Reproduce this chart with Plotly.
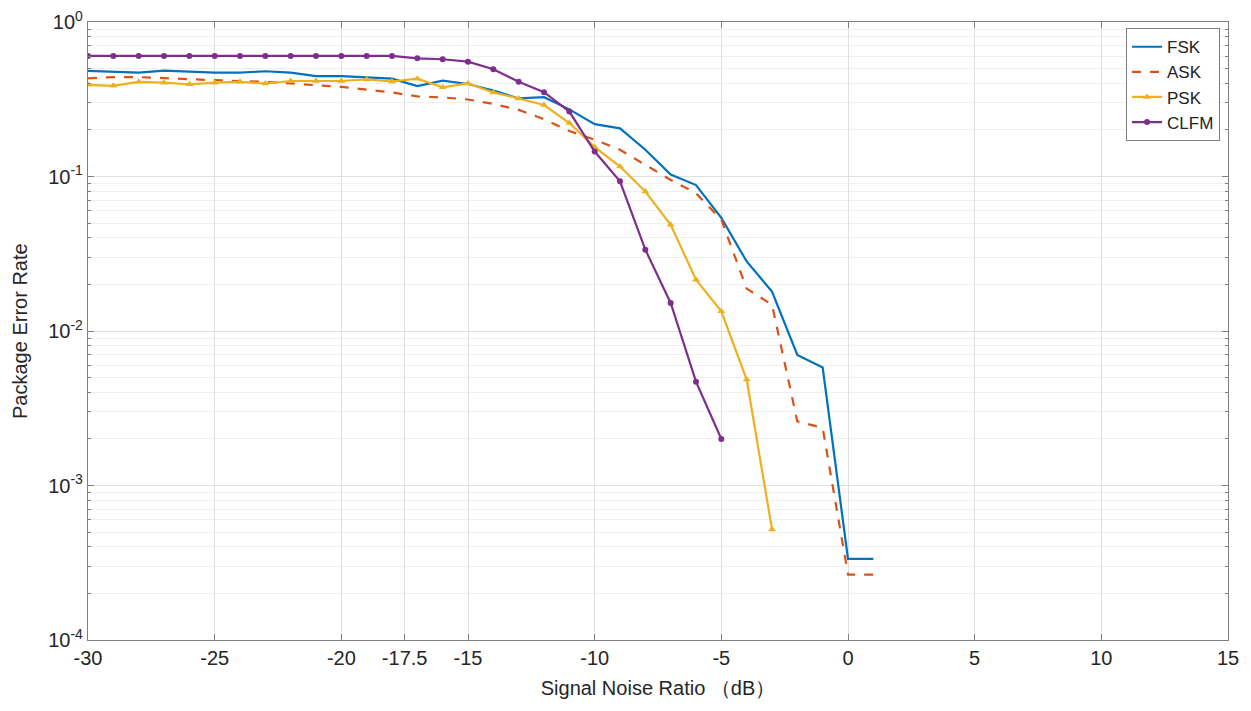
import plotly.graph_objects as go

fsk_x = list(range(-30, 2))
fsk = [0.483, 0.476, 0.47, 0.485, 0.478, 0.47, 0.47, 0.48, 0.47, 0.446, 0.446, 0.438, 0.43,
       0.385, 0.417, 0.397, 0.36, 0.32, 0.326, 0.272, 0.218, 0.205, 0.149, 0.103, 0.088,
       0.054, 0.0282, 0.018, 0.0070, 0.0058, 3.35e-4, 3.35e-4]

ask_x = list(range(-30, 2))
ask = [0.432, 0.44, 0.44, 0.432, 0.425, 0.42, 0.415, 0.41, 0.40, 0.39, 0.38, 0.365, 0.35,
       0.33, 0.325, 0.315, 0.295, 0.27, 0.235, 0.197, 0.173, 0.149, 0.119, 0.095, 0.078,
       0.0525, 0.0188, 0.0148, 0.0026, 0.00236, 2.65e-4, 2.65e-4]

psk_x = list(range(-30, -2))
psk = [0.392, 0.386, 0.41, 0.405, 0.395, 0.405, 0.41, 0.40, 0.415, 0.415, 0.415, 0.425,
       0.412, 0.43, 0.378, 0.40, 0.35, 0.32, 0.29, 0.222, 0.155, 0.116, 0.080, 0.0487,
       0.0215, 0.0134, 0.00485, 5.2e-4]

clfm_x = list(range(-30, -4))
clfm = [0.603] * 13 + [0.582, 0.574, 0.554, 0.494, 0.411, 0.351, 0.263, 0.145, 0.093,
                       0.0336, 0.0152, 0.0047, 0.002]

x_ticks = [-30, -25, -20, -17.5, -15, -10, -5, 0, 5, 10, 15]
x_ticktext = ["-30", "-25", "-20", "-17.5", "-15", "-10", "-5", "0", "5", "10", "15"]
y_ticks = [1, 0.1, 0.01, 0.001, 0.0001]
y_ticktext = ["10<sup>0</sup>", "10<sup>-1</sup>", "10<sup>-2</sup>", "10<sup>-3</sup>", "10<sup>-4</sup>"]
y_minor = [m * 10.0 ** e for e in range(-4, 0) for m in range(2, 10)]

FONT = "Liberation Sans, Arial, sans-serif"

fig = go.Figure()
fig.add_trace(go.Scatter(x=fsk_x, y=fsk, name="FSK", mode="lines",
                         line=dict(color="#0072BD", width=2.2)))
fig.add_trace(go.Scatter(x=ask_x, y=ask, name="ASK", mode="lines",
                         line=dict(color="#D95319", width=2.2, dash="dash")))
fig.add_trace(go.Scatter(x=psk_x, y=psk, name="PSK", mode="lines+markers",
                         line=dict(color="#EDB120", width=2.2),
                         marker=dict(symbol="triangle-up", size=7, color="#EDB120")))
fig.add_trace(go.Scatter(x=clfm_x, y=clfm, name="CLFM", mode="lines+markers",
                         line=dict(color="#7E2F8E", width=2.2),
                         marker=dict(symbol="circle", size=6, color="#7E2F8E")))

axis_common = dict(showline=True, linecolor="#808080", linewidth=1.2, mirror="ticks",
                   ticks="inside", tickcolor="#808080", ticklen=6, automargin=False,
                   showgrid=True, gridcolor="#e0e0e0", gridwidth=1, zeroline=False,
                   ticklabeloverflow="allow",
                   tickfont=dict(family=FONT, size=20, color="#262626"))

fig.update_xaxes(range=[-30, 15], tickmode="array", tickvals=x_ticks, ticktext=x_ticktext,
                 title=dict(text="Signal Noise Ratio （dB）", font=dict(family=FONT, size=20, color="#262626"),
                            standoff=12),
                 **axis_common)
fig.update_yaxes(type="log", range=[-4, 0], tickmode="array", tickvals=y_ticks, ticktext=y_ticktext,
                 minor=dict(tickmode="array", tickvals=y_minor, ticks="inside", ticklen=3,
                            tickcolor="#808080", showgrid=True, gridcolor="#f0f0f0"),
                 **axis_common)

fig.add_annotation(text="Package Error Rate", xref="paper", yref="paper", x=0, y=0.5,
                   xanchor="center", yanchor="middle", xshift=-68, textangle=-90,
                   showarrow=False, font=dict(family=FONT, size=20, color="#262626"))

fig.update_layout(
    width=1235, height=695,
    margin=dict(l=80, r=15, t=14, b=63),
    plot_bgcolor="white", paper_bgcolor="white",
    font=dict(family=FONT, color="#262626"),
    legend=dict(x=0.993, y=0.99, xanchor="right", yanchor="top",
                bgcolor="white", bordercolor="#808080", borderwidth=1,
                font=dict(family=FONT, size=17, color="#222222"),
                tracegroupgap=0, itemwidth=30),
    showlegend=True,
)

fig.write_html("out.html")
